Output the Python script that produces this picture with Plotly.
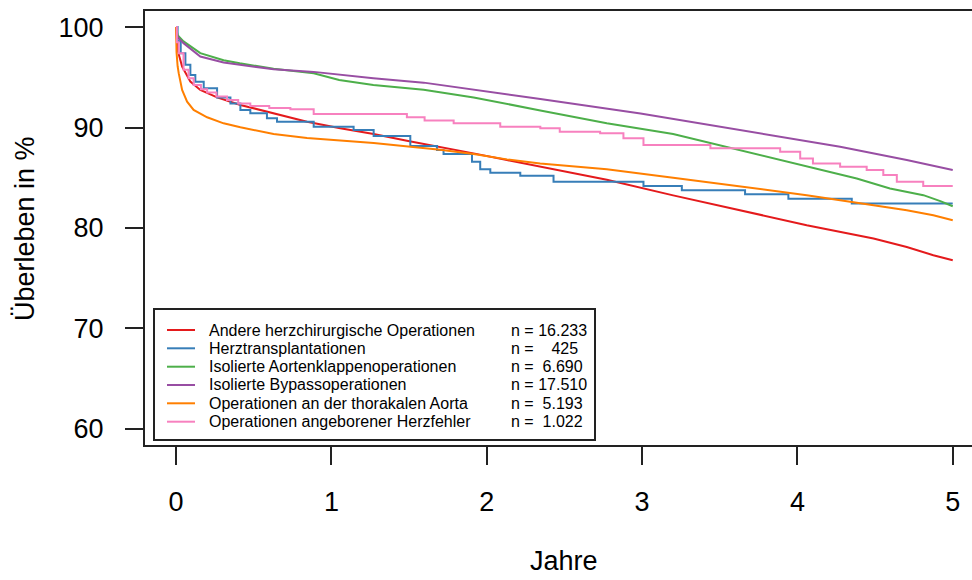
import plotly.graph_objects as go

# ---------------- data ----------------
group_names = [
    "Andere herzchirurgische Operationen",
    "Herztransplantationen",
    "Isolierte Aortenklappenoperationen",
    "Isolierte Bypassoperationen",
    "Operationen an der thorakalen Aorta",
    "Operationen angeborener Herzfehler",
]
n_counts = ["16.233", "425", "6.690", "17.510", "5.193", "1.022"]
colors = ["#E41A1C", "#377EB8", "#4DAF4A", "#984EA3", "#FF7F00", "#F781BF"]

red_t = [0, 0.01, 0.039, 0.092, 0.156, 0.264, 0.414, 0.628, 0.843, 1.057, 1.272, 1.486,
         1.7, 1.915, 2.13, 2.344, 2.773, 3.2, 3.63, 4.06, 4.49, 4.704, 4.875, 5.0]
red_v = [100, 97.7, 96.07, 94.57, 93.74, 93.0, 92.25, 91.42, 90.58, 89.92, 89.36, 88.69,
         88.09, 87.43, 86.76, 86.09, 84.8, 83.25, 81.8, 80.28, 78.95, 78.11, 77.29, 76.79]

blue_t = [0, 0.01, 0.03, 0.06, 0.092, 0.124, 0.178, 0.264, 0.35, 0.414, 0.478, 0.585, 0.65,
          0.886, 1.143, 1.272, 1.508, 1.68, 1.722, 1.905, 1.958, 2.023, 2.216, 2.43, 3.009,
          3.256, 3.663, 3.942, 4.35, 5.0]
blue_v = [100, 98.6, 97.4, 96.24, 95.24, 94.57, 93.9, 93.0, 92.4, 91.75, 91.42, 90.92, 90.58,
          90.08, 89.76, 89.16, 88.16, 87.76, 87.36, 86.6, 85.84, 85.5, 85.2, 84.6, 84.17,
          83.77, 83.37, 82.9, 82.44, 82.44]

green_t = [0, 0.01, 0.048, 0.156, 0.306, 0.41, 0.628, 0.886, 1.05, 1.27, 1.594, 1.916, 2.345,
           2.773, 3.2, 3.524, 3.846, 4.167, 4.382, 4.596, 4.811, 4.92, 5.0]
green_v = [100, 99.2, 98.57, 97.4, 96.7, 96.4, 95.85, 95.4, 94.74, 94.24, 93.75, 93.0, 91.7,
           90.42, 89.35, 88.15, 86.93, 85.77, 84.93, 83.94, 83.27, 82.67, 82.17]

purple_t = [0, 0.01, 0.048, 0.156, 0.306, 0.628, 0.886, 1.27, 1.594, 1.916, 2.345, 2.99,
            3.632, 4.275, 4.704, 5.0]
purple_v = [100, 99.0, 98.4, 97.07, 96.47, 95.8, 95.54, 94.9, 94.47, 93.8, 92.85, 91.39,
            89.76, 88.09, 86.76, 85.77]

orange_t = [0, 0.003, 0.01, 0.017, 0.039, 0.071, 0.113, 0.2, 0.306, 0.414, 0.628, 0.843,
            1.272, 1.7, 1.915, 2.13, 2.344, 2.773, 3.2, 3.63, 4.06, 4.49, 4.704, 4.875, 5.0]
orange_v = [100, 97.5, 96.1, 95.41, 93.74, 92.58, 91.75, 91.02, 90.42, 90.02, 89.36, 88.95,
            88.45, 87.8, 87.36, 86.83, 86.43, 85.85, 85.0, 84.1, 83.27, 82.27, 81.77, 81.27, 80.77]

pink_t = [0, 0.005, 0.017, 0.048, 0.08, 0.113, 0.16, 0.2, 0.26, 0.328, 0.4, 0.478, 0.6,
          0.736, 0.886, 1.486, 1.6, 1.787, 2.087, 2.345, 2.47, 2.73, 2.88, 3.009, 3.44,
          3.889, 4.018, 4.1, 4.275, 4.446, 4.553, 4.64, 4.81, 5.0]
pink_v = [100, 98.5, 97.4, 95.74, 94.9, 94.24, 93.8, 93.48, 93.1, 92.75, 92.4, 92.15, 91.95,
          91.82, 91.35, 91.02, 90.7, 90.42, 90.08, 89.92, 89.59, 89.43, 88.93, 88.26, 87.93,
          87.59, 86.93, 86.43, 86.09, 85.77, 85.27, 84.6, 84.17, 84.17]

x_ticks = [0, 1, 2, 3, 4, 5]
y_ticks = [60, 70, 80, 90, 100]
x_title = "Jahre"
y_title = "Überleben in %"

series = [
    (red_t, red_v, "linear"),
    (blue_t, blue_v, "hv"),
    (green_t, green_v, "linear"),
    (purple_t, purple_v, "linear"),
    (orange_t, orange_v, "linear"),
    (pink_t, pink_v, "hv"),
]

# ---------------- layout geometry (pixels) ----------------
W, H = 972, 580
L, R, T, B = 145, 0, 11, 135
PW, PH = W - L - R, H - T - B
FONT = "Liberation Sans, Arial, sans-serif"
AX = "#222222"


def px_x(p):
    return (p - L) / PW


def px_y(p):
    return (H - B - p) / PH


fig = go.Figure()
for (t, v, shape), col, name in zip(series, colors, group_names):
    fig.add_trace(go.Scatter(x=t, y=v, mode="lines", name=name,
                             line=dict(color=col, width=2, shape=shape),
                             showlegend=False))

axis_common = dict(showgrid=False, zeroline=False, ticks="outside", ticklen=18,
                   tickwidth=2, tickcolor=AX, showline=True, linewidth=2, linecolor=AX,
                   tickfont=dict(family=FONT, size=27, color="black"))

fig.update_xaxes(range=[-0.2, 5.124], tickvals=x_ticks, mirror=True,
                 ticklabelstandoff=14, **axis_common)
fig.update_yaxes(range=[58.4, 101.6], tickvals=y_ticks, mirror=False,
                 ticklabelstandoff=16, **axis_common)

annotations = [
    dict(text=x_title, x=px_x(564), y=px_y(561), xref="paper", yref="paper",
         showarrow=False, xanchor="center", yanchor="middle",
         borderpad=0, borderwidth=0,
         font=dict(family=FONT, size=27, color="black")),
    dict(text=y_title, x=px_x(25), y=px_y(228), xref="paper", yref="paper",
         showarrow=False, xanchor="center", yanchor="middle", textangle=-90,
         font=dict(family=FONT, size=27, color="black")),
]

shapes = [
    dict(type="rect", xref="paper", yref="paper", x0=px_x(154), x1=px_x(595),
         y0=px_y(440), y1=px_y(309), line=dict(color=AX, width=2), fillcolor="white",
         layer="above"),
]

row_y = [330, 348.3, 366.7, 385, 403.3, 421.7]
for name, n, col, ry in zip(group_names, n_counts, colors, row_y):
    shapes.append(dict(type="line", xref="paper", yref="paper", x0=px_x(167), x1=px_x(195),
                       y0=px_y(ry), y1=px_y(ry), line=dict(color=col, width=2),
                       layer="above"))
    annotations.append(dict(text=name, x=px_x(209), y=px_y(ry), xref="paper", yref="paper",
                            showarrow=False, xanchor="left", yanchor="middle",
                            borderpad=0, borderwidth=0,
                            font=dict(family=FONT, size=16, color="black")))
    label = "n = " + n.rjust(6).replace(" ", "\u00a0")
    annotations.append(dict(text=label, x=px_x(511), y=px_y(ry), xref="paper", yref="paper",
                            showarrow=False, xanchor="left", yanchor="middle",
                            borderpad=0, borderwidth=0,
                            font=dict(family=FONT, size=16, color="black")))

fig.update_layout(width=W, height=H, margin=dict(l=L, r=R, t=T, b=B, pad=0),
                  plot_bgcolor="white", paper_bgcolor="white",
                  annotations=annotations, shapes=shapes)

fig.write_html("out.html", config={"displayModeBar": False})
